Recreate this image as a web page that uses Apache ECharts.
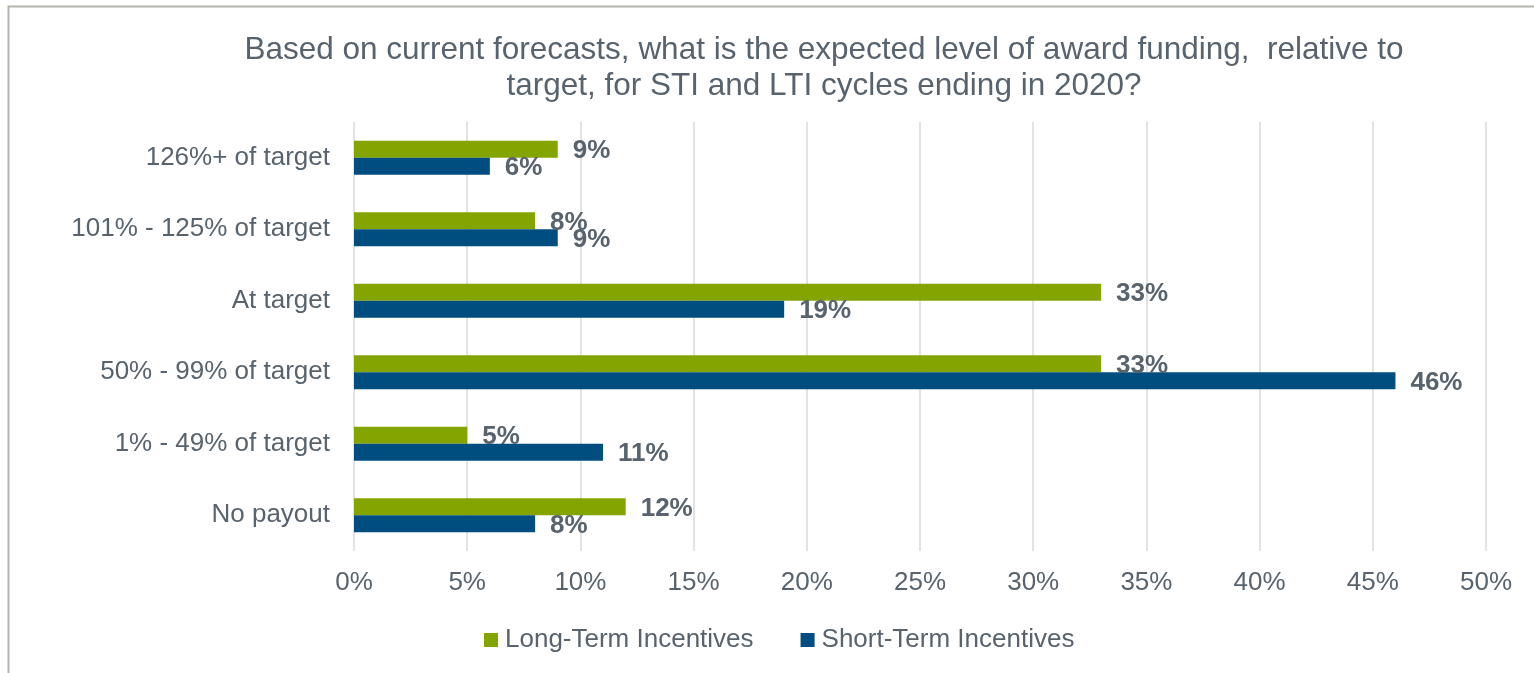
<!DOCTYPE html>
<html>
<head>
    <meta charset="utf-8">
    <title>Award funding</title>
    <script src="https://cdn.jsdelivr.net/npm/echarts@6/dist/echarts.min.js"></script>
    <style>
        html, body { margin: 0; padding: 0; background: #fff; }
        #main { width: 1534px; height: 673px; }
    </style>
</head>
<body>
<div id="main"></div>
<script type="text/javascript">
    // categories, top to bottom
    var categories = ['126%+ of target', '101% - 125% of target', 'At target',
        '50% - 99% of target', '1% - 49% of target', 'No payout'];
    var longTerm = [9, 8, 33, 33, 5, 12];   // Long-Term Incentives (%)
    var shortTerm = [6, 9, 19, 46, 11, 8];  // Short-Term Incentives (%)
    var seriesNames = ['Long-Term Incentives', 'Short-Term Incentives'];

    var textColor = '#58636d';
    var font = 'Liberation Sans, Arial, sans-serif';

    var myChart = echarts.init(document.getElementById('main'));

    var labelStyle = {
        show: true,
        position: 'right',
        distance: 15,
        offset: [0, 2],
        formatter: '{c}%',
        color: textColor,
        fontWeight: 'bold',
        fontSize: 26,
        fontFamily: font
    };

    var option = {
        backgroundColor: '#fff',
        textStyle: { fontFamily: font },
        title: {
            text: 'Based on current forecasts, what is the expected level of award funding,  relative to\ntarget, for STI and LTI cycles ending in 2020?',
            left: 819,
            textAlign: 'center',
            top: 27,
            textStyle: {
                color: textColor,
                fontSize: 31.5,
                fontWeight: 'normal',
                lineHeight: 36,
                fontFamily: font
            }
        },
        graphic: [{
            // outer frame of the chart area
            type: 'rect',
            shape: { x: 8.5, y: 6.5, width: 1540, height: 700 },
            style: { fill: null, stroke: '#b4b4ac', lineWidth: 2 },
            silent: true
        }],
        legend: {
            data: seriesNames,
            top: 622,
            left: 479,
            icon: 'rect',
            itemWidth: 14,
            itemHeight: 14,
            itemGap: 47,
            textStyle: { color: textColor, fontSize: 26, fontFamily: font, padding: [0, 0, 0, 2] }
        },
        grid: {
            left: 354,
            right: 48,
            top: 122,
            height: 429
        },
        xAxis: {
            type: 'value',
            min: 0,
            max: 50,
            interval: 5,
            axisLine: { show: false },
            axisTick: { show: false },
            splitLine: { show: true, lineStyle: { color: '#d9d9d9', width: 1.5 } },
            axisLabel: {
                formatter: '{value}%',
                color: textColor,
                fontSize: 26,
                margin: 19,
                fontFamily: font
            }
        },
        yAxis: {
            type: 'category',
            inverse: true,
            data: categories,
            axisLine: { show: false },
            axisTick: { show: false },
            axisLabel: {
                color: textColor,
                fontSize: 26,
                margin: 24,
                fontFamily: font
            }
        },
        series: [
            {
                name: seriesNames[0],
                type: 'bar',
                data: longTerm,
                barWidth: 17,
                barGap: '0%',
                itemStyle: { color: '#84a500' },
                label: labelStyle
            },
            {
                name: seriesNames[1],
                type: 'bar',
                data: shortTerm,
                barWidth: 17,
                barGap: '0%',
                itemStyle: { color: '#004d80' },
                label: labelStyle
            }
        ]
    };

    myChart.setOption(option);
</script>
</body>
</html>
